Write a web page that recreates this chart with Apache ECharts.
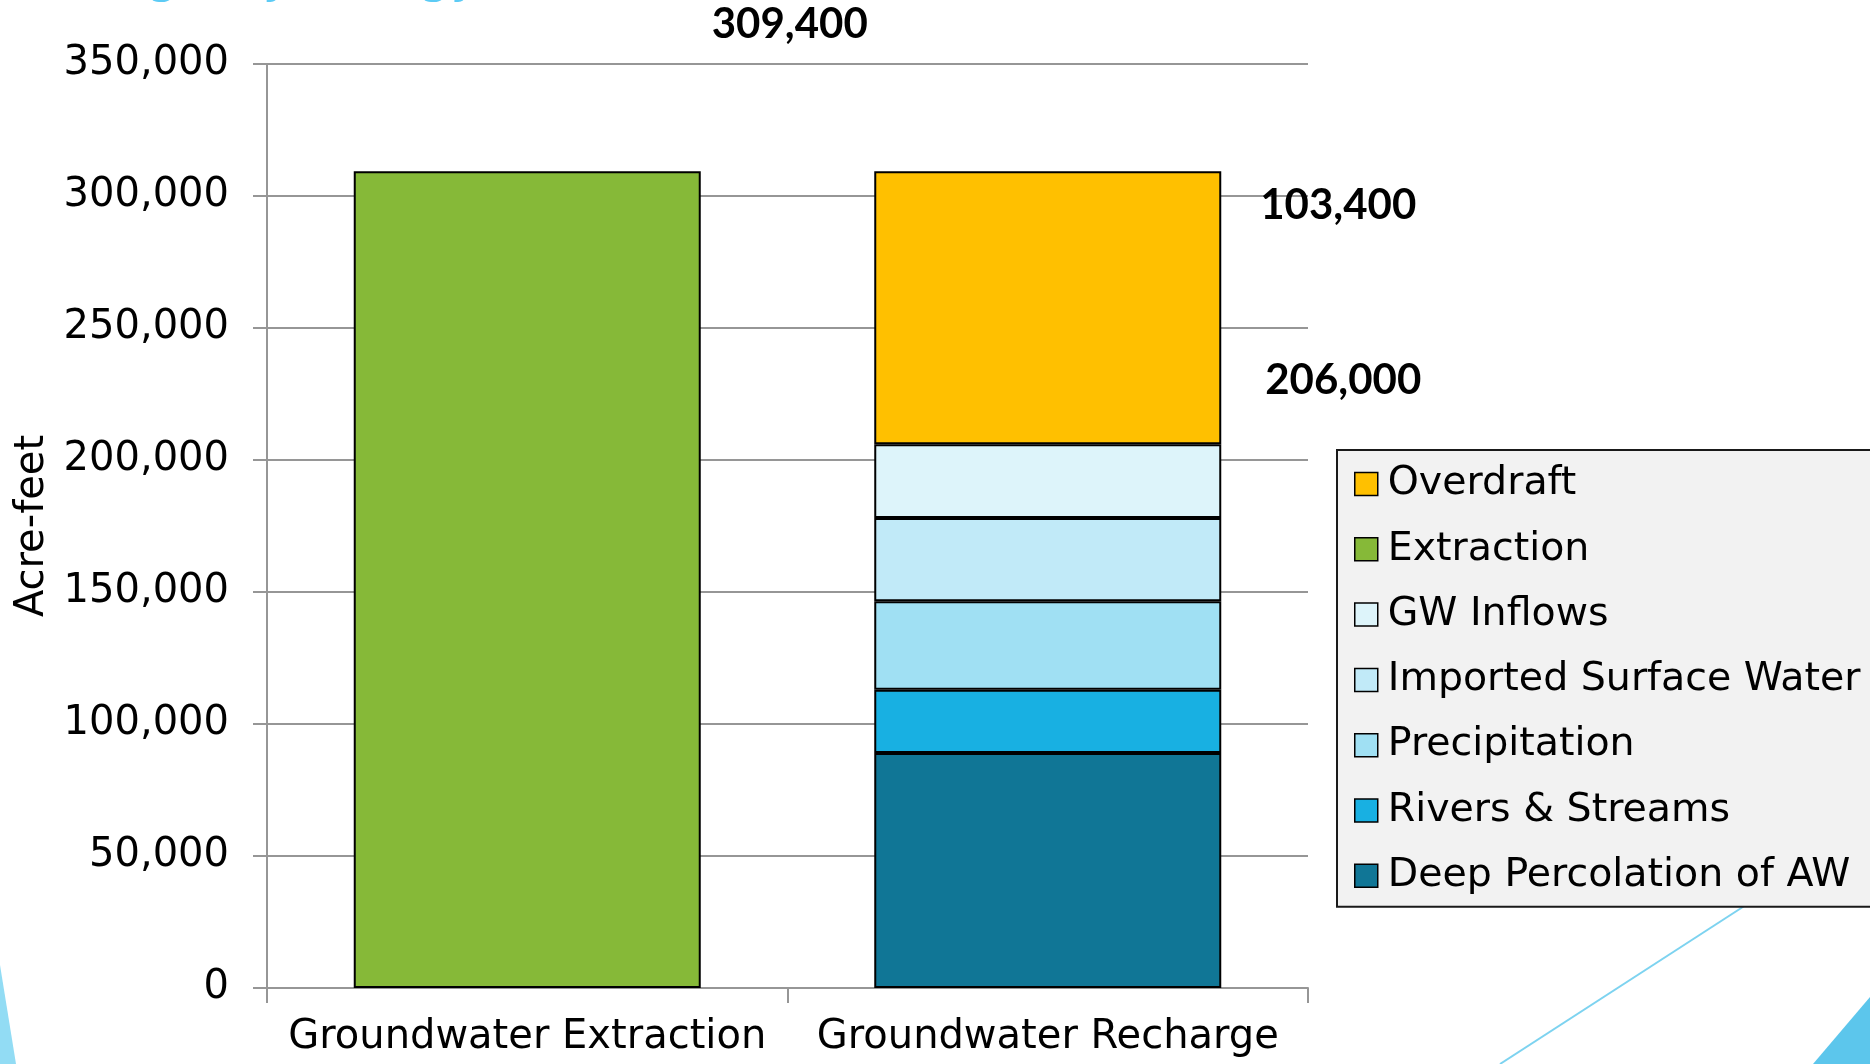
<!DOCTYPE html>
<html>
<head>
<meta charset="utf-8">
<script src="https://cdn.jsdelivr.net/npm/echarts@6/dist/echarts.min.js"></script>
<style>
html,body{margin:0;padding:0;background:#fff;}
#chart{width:1870px;height:1064px;}
</style>
</head>
<body>
<div id="chart"></div>
<script>
// ---- data ----
const categories = ['Groundwater Extraction', 'Groundwater Recharge'];
const extraction = [309400, null];
const deepPercolation = [null, 89000];
const riversStreams = [null, 24000];
const precipitation = [null, 33500];
const importedSurfaceWater = [null, 31500];
const gwInflows = [null, 28000];
const overdraft = [null, 103400];
const legendOrder = ['Overdraft', 'Extraction', 'GW Inflows', 'Imported Surface Water', 'Precipitation', 'Rivers & Streams', 'Deep Percolation of AW'];
const yMin = 0, yMax = 350000, yStep = 50000;

const fmt = v => Number(v).toLocaleString('en-US');
const rechargeSubtotal = deepPercolation[1] + riversStreams[1] + precipitation[1] + importedSurfaceWater[1] + gwInflows[1];

const chart = echarts.init(document.getElementById('chart'));
const border = { borderColor: '#000', borderWidth: 2 };
const boldLabel = { fontFamily: 'Lato', fontWeight: 'bold', fontSize: 42, color: '#000' };

function barSeries(name, data, color, label) {
  const s = {
    name, type: 'bar', stack: 'total', data,
    barWidth: 347,
    itemStyle: Object.assign({ color }, border),
    emphasis: { disabled: true }
  };
  if (label) s.label = label;
  return s;
}

const option = {
  backgroundColor: '#fff',
  animation: false,
  grid: { left: 267, right: 562, top: 64, bottom: 76, containLabel: false },
  legend: {
    orient: 'vertical',
    left: 1337, top: 450,
    data: legendOrder,
    icon: 'rect',
    itemWidth: 23, itemHeight: 23,
    itemGap: 25.3,
    padding: [14, 30, 11, 17],
    backgroundColor: '#f2f2f2',
    borderColor: '#1a1a1a', borderWidth: 2, borderRadius: 0,
    itemStyle: { borderColor: '#000', borderWidth: 1.5 },
    textStyle: { fontFamily: 'DejaVu Sans', fontSize: 39.5, color: '#000', padding: [0, 0, 0, 5] },
    selectedMode: false
  },
  xAxis: {
    type: 'category',
    data: categories,
    axisLine: { lineStyle: { color: '#969696', width: 2 } },
    axisTick: { show: true, length: 15, lineStyle: { color: '#969696', width: 2 } },
    axisLabel: { interval: 0, fontFamily: 'DejaVu Sans', fontSize: 40, color: '#000', margin: 30 },
    splitLine: { show: false }
  },
  yAxis: {
    type: 'value',
    min: yMin, max: yMax, interval: yStep,
    name: 'Acre-feet',
    nameLocation: 'middle',
    nameRotate: 90,
    nameGap: 207,
    nameTextStyle: { fontFamily: 'DejaVu Sans', fontSize: 40, color: '#000' },
    axisLine: { show: true, lineStyle: { color: '#969696', width: 2 } },
    axisTick: { show: true, length: 14, lineStyle: { color: '#969696', width: 2 } },
    axisLabel: { fontFamily: 'DejaVu Sans', fontSize: 40, color: '#000', margin: 38, formatter: v => fmt(v) },
    splitLine: { show: true, lineStyle: { color: '#969696', width: 2 } }
  },
  series: [
    barSeries('Extraction', extraction, '#86B938', Object.assign({
      show: true, position: [436, -147], align: 'center', verticalAlign: 'middle',
      formatter: p => fmt(p.value)
    }, boldLabel)),
    barSeries('Deep Percolation of AW', deepPercolation, '#107696'),
    barSeries('Rivers & Streams', riversStreams, '#18B0E2'),
    barSeries('Precipitation', precipitation, '#A0E0F3'),
    barSeries('Imported Surface Water', importedSurfaceWater, '#C1EAF8'),
    barSeries('GW Inflows', gwInflows, '#DDF4FA', Object.assign({
      show: true, position: [391, -64], align: 'left', verticalAlign: 'middle',
      formatter: () => fmt(rechargeSubtotal)
    }, boldLabel)),
    barSeries('Overdraft', overdraft, '#FFC000', Object.assign({
      show: true, position: [386, 34], align: 'left', verticalAlign: 'middle',
      formatter: p => fmt(p.value)
    }, boldLabel))
  ],
  graphic: [
    { type: 'text', silent: true, z: 0, style: { x: 4, y: 4, text: 'Average Hydrology', verticalAlign: 'bottom', font: '50px "DejaVu Sans"', fill: '#5CCBF5' } },
    { type: 'polygon', silent: true, z: 0, shape: { points: [[0, 965], [16, 1064], [0, 1064]] }, style: { fill: '#92DCF4' } },
    { type: 'line', silent: true, z: 0, shape: { x1: 1800, y1: 870, x2: 1500, y2: 1064 }, style: { stroke: '#7DD3F0', lineWidth: 2 } },
    { type: 'polygon', silent: true, z: 0, shape: { points: [[1870, 997], [1813, 1064], [1870, 1064]] }, style: { fill: '#5CC6EC' } }
  ]
};
chart.setOption(option);
</script>
</body>
</html>
